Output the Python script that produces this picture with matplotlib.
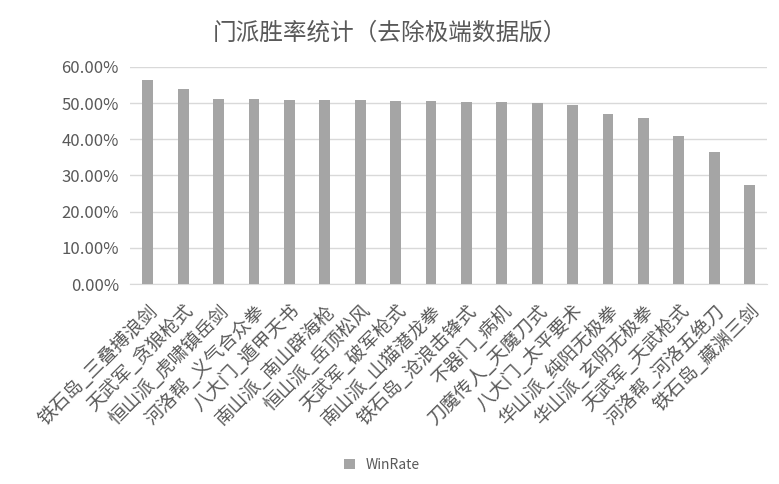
import numpy as np
import matplotlib.pyplot as plt
from matplotlib.ticker import PercentFormatter

plt.rcParams['font.family'] = ['Noto Sans CJK SC', 'DejaVu Sans']

# data
schools = ['铁石岛_三叠搏浪剑', '天武军_贪狼枪式', '恒山派_虎啸镇岳剑', '河洛帮_义气合众拳',
           '八大门_遁甲天书', '南山派_南山辟海枪', '恒山派_岳顶松风', '天武军_破军枪式',
           '南山派_山猫潜龙拳', '铁石岛_沧浪击锋式', '不器门_病机', '刀魔传人_天魔刀式',
           '八大门_太平要术', '华山派_纯阳无极拳', '华山派_玄阴无极拳', '天武军_天武枪式',
           '河洛帮_河洛五绝刀', '铁石岛_藏渊三剑']
win_rate = [56.3, 53.8, 51.2, 51.2, 50.8, 50.8, 50.8, 50.5, 50.5,
            50.2, 50.2, 49.9, 49.5, 47.1, 45.8, 40.9, 36.5, 27.5]

fig = plt.figure(figsize=(7.79, 4.84), dpi=100)
ax = fig.add_axes([0.167, 0.413, 0.818, 0.449])

x = np.arange(len(schools))
ax.bar(x, win_rate, width=0.31, color='#A5A5A5', label='WinRate', zorder=3)

ax.set_xlim(-0.5, len(schools) - 0.5)
ax.set_ylim(0, 60)
ax.set_yticks(np.arange(0, 61, 10))
ax.yaxis.set_major_formatter(PercentFormatter(decimals=2))
ax.grid(axis='y', color='#D9D9D9', linewidth=1, zorder=0)

for s in ['top', 'right', 'left']:
    ax.spines[s].set_visible(False)
ax.spines['bottom'].set_color('#D9D9D9')
ax.tick_params(axis='both', length=0, colors='#595959')
ax.tick_params(axis='y', labelsize=12, pad=8)
ax.tick_params(axis='x', pad=12)

ax.set_xticks(x)
ax.set_xticklabels(schools, rotation=45, ha='right', rotation_mode='anchor',
                   fontsize=13.5, color='#595959')

fig.suptitle('门派胜率统计（去除极端数据版）', x=0.5, y=0.955, fontsize=17, color='#595959')
fig.legend(loc='center', bbox_to_anchor=(0.49, 0.04), frameon=False, fontsize=10,
           handlelength=0.8, handleheight=0.8, labelcolor='#595959')

fig.savefig('out.png', dpi=100)
